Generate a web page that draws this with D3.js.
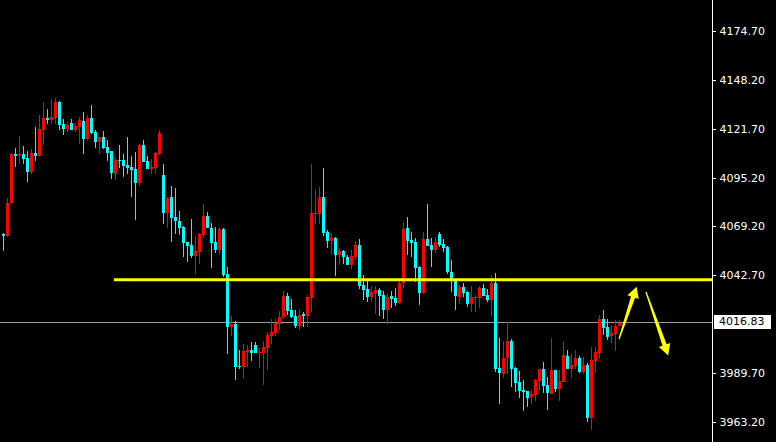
<!DOCTYPE html>
<html><head><meta charset="utf-8">
<script src="https://cdn.jsdelivr.net/npm/d3@7/dist/d3.min.js"></script>
<style>html,body{margin:0;padding:0;background:#000;}svg{display:block;}</style>
</head><body><svg id="c" width="776" height="442"></svg>
<script>
const opens = [4064.9,4063.8,4081.7,4108.2,4107.6,4108.2,4106.0,4098.4,4108.7,4107.1,
4121.2,4127.7,4126.6,4127.7,4136.3,4124.4,4121.7,4124.9,4121.2,4122.8,
4126.0,4116.3,4127.7,4120.1,4114.7,4117.4,4112.0,4109.8,4097.4,4104.9,
4104.9,4102.2,4101.1,4100.1,4092.5,4113.0,4104.4,4100.1,4100.6,4108.2,
4096.8,4076.3,4084.9,4074.1,4071.9,4068.7,4060.6,4059.0,4053.0,4055.2,
4064.4,4074.6,4068.2,4060.6,4056.2,4067.6,4043.3,4014.6,4016.2,3993.5,
3993.0,4001.1,4002.2,4004.9,4000.5,4000.5,4003.2,4009.7,4011.4,4016.2,
4020.0,4031.4,4023.8,4020.6,4015.1,4021.6,4020.6,4030.3,4075.7,4075.7,
4084.9,4066.0,4061.1,4062.7,4053.5,4055.7,4052.5,4048.1,4052.5,4059.0,
4037.3,4035.2,4030.8,4033.0,4034.6,4031.9,4023.8,4031.4,4030.3,4027.6,
4038.4,4068.2,4061.7,4060.6,4047.1,4033.0,4062.2,4059.0,4056.2,4064.9,
4059.5,4057.9,4044.3,4039.5,4030.8,4036.2,4033.5,4027.0,4030.3,4030.3,
4035.7,4031.9,4029.2,4038.4,3992.4,3989.2,3997.8,4007.0,3992.4,3984.8,
3980.5,3980.0,3976.7,3977.8,3985.4,3991.9,3983.2,3978.4,3991.3,3981.1,
3984.8,3998.9,3991.9,3993.5,3997.8,3990.3,3994.0,3965.4,3996.2,4000.5,
4018.9,4014.6,4009.7,4010.8,4015.1];
const highs = [4065.4,4084.4,4108.5,4111.4,4117.9,4112.5,4109.8,4110.9,4122.8,4129.3,
4136.3,4132.5,4137.9,4138.5,4136.8,4127.1,4125.5,4127.1,4124.9,4128.2,
4130.9,4129.3,4134.7,4121.2,4117.6,4120.6,4115.7,4110.0,4106.0,4113.0,
4108.2,4117.4,4107.1,4109.3,4113.6,4115.7,4107.1,4105.5,4109.3,4121.2,
4102.8,4084.9,4090.9,4089.8,4077.3,4069.2,4060.8,4073.0,4063.8,4065.4,
4081.1,4076.8,4070.9,4068.7,4068.2,4068.2,4047.1,4020.6,4017.8,4002.2,
4005.4,4004.9,4006.5,4006.5,4003.2,4007.0,4011.9,4018.9,4018.9,4023.3,
4034.1,4033.0,4029.7,4023.8,4024.3,4022.7,4031.9,4102.8,4088.7,4090.3,
4100.6,4067.1,4064.9,4063.3,4057.3,4056.2,4053.5,4056.2,4061.1,4062.2,
4042.7,4039.5,4036.8,4036.8,4035.7,4034.1,4032.4,4034.1,4035.7,4040.0,
4071.4,4074.1,4066.0,4062.7,4047.6,4066.0,4081.1,4062.7,4063.3,4066.0,
4062.2,4058.4,4050.8,4039.7,4037.3,4038.4,4034.1,4036.8,4031.9,4036.8,
4037.9,4035.2,4042.7,4043.8,4008.6,4007.0,4017.3,4008.1,3993.0,3990.8,
3985.9,3980.2,3980.5,3986.5,3992.1,3995.7,3987.5,4008.6,3991.5,3991.3,
4007.0,4002.2,4000.0,4002.2,3998.9,3998.4,3995.1,4003.8,4003.8,4021.1,
4023.8,4018.9,4015.7,4018.4,4018.4];
const lows = [4055.7,4063.3,4081.1,4101.1,4102.8,4102.8,4093.0,4097.4,4104.4,4106.6,
4113.6,4124.4,4124.4,4124.4,4121.2,4118.5,4120.1,4120.9,4120.1,4113.6,
4108.2,4115.7,4119.0,4111.4,4108.2,4110.9,4104.4,4094.6,4094.1,4100.6,
4095.7,4097.4,4084.9,4072.5,4090.9,4103.6,4099.8,4097.4,4097.4,4107.6,
4070.3,4068.2,4060.6,4064.9,4064.4,4052.5,4049.8,4051.9,4043.3,4048.7,
4062.7,4067.9,4046.5,4054.6,4053.5,4041.6,4000.0,4009.7,3985.9,3991.9,
3986.5,3993.0,3996.2,4000.3,3992.4,3983.2,3991.3,4005.4,4009.7,4013.0,
4018.9,4021.1,4019.5,4014.1,4013.0,4014.6,4014.6,4022.7,4070.3,4070.3,
4063.8,4057.3,4054.1,4042.2,4048.1,4048.7,4047.9,4046.0,4050.8,4035.2,
4029.2,4028.1,4028.1,4021.6,4020.6,4018.9,4016.2,4024.9,4026.0,4027.0,
4035.7,4053.5,4052.5,4038.9,4026.5,4032.5,4058.2,4047.1,4054.6,4057.9,
4055.2,4043.3,4033.5,4023.8,4027.0,4030.8,4025.4,4022.7,4022.7,4024.9,
4031.1,4028.1,4020.6,3990.3,3972.9,3987.0,3989.2,3982.1,3979.4,3976.2,
3969.2,3971.3,3972.9,3974.6,3980.0,3978.9,3969.7,3978.2,3979.4,3974.6,
3984.6,3991.7,3987.0,3991.9,3989.7,3989.2,3963.2,3958.9,3989.7,3997.3,
4010.3,4007.6,4005.9,4001.6,4014.9];
const closes = [4063.8,4081.7,4108.2,4107.1,4108.2,4105.5,4098.4,4108.7,4107.1,4121.7,
4127.7,4126.6,4128.2,4136.3,4123.9,4121.7,4123.9,4121.2,4123.3,4126.6,
4116.3,4127.7,4119.5,4114.7,4117.4,4111.4,4108.7,4097.9,4104.9,4104.4,
4101.7,4100.6,4099.5,4092.5,4113.0,4103.8,4100.1,4101.1,4108.7,4119.5,
4076.3,4084.4,4073.6,4071.9,4068.2,4060.0,4058.4,4053.0,4055.7,4064.9,
4074.6,4068.2,4060.0,4056.2,4067.6,4042.7,4014.6,4016.2,3993.0,3993.0,
4001.6,4002.2,4000.5,4000.5,4001.1,4003.8,4010.3,4011.9,4016.8,4020.0,
4031.4,4023.3,4020.0,4015.1,4021.1,4020.6,4030.8,4076.3,4076.3,4084.9,
4065.4,4061.1,4062.7,4053.5,4055.7,4052.5,4048.1,4053.0,4059.0,4036.8,
4034.6,4030.8,4033.5,4034.6,4031.4,4023.8,4030.8,4029.7,4027.6,4038.4,
4067.6,4061.1,4060.0,4046.5,4033.0,4062.2,4058.4,4056.2,4060.6,4059.0,
4057.3,4044.3,4039.5,4031.4,4036.2,4033.0,4027.0,4030.8,4030.8,4035.7,
4031.4,4029.2,4038.4,3991.9,3989.7,3997.8,4007.0,3991.9,3984.3,3980.0,
3979.4,3976.2,3978.4,3985.9,3991.9,3982.7,3978.9,3991.3,3981.1,3985.4,
3999.5,3991.9,3994.0,3997.8,3990.3,3994.0,3965.4,3996.7,4001.1,4018.9,
4014.1,4009.2,4011.4,4015.1,4016.83];
const tickLabels = ["4174.70","4148.20","4121.70","4095.20","4069.20","4042.70","3989.70","3963.20"];
const bidPrice = 4016.83;
const resistanceLevel = 4040.2;
const resistanceStartIndex = 27.75;
// annotation arrows in data units: [startIndex, startPrice, endIndex, endPrice]
const arrowUp = [154, 4008.1, 158.4, 4036.4];
const arrowDown = [160.75, 4033.5, 166.3, 3999.2];

const W = 776, H = 442, axisX = 712;
const svg = d3.select("#c");
svg.append("rect").attr("width", W).attr("height", H).attr("fill", "#000");

const y = d3.scaleLinear().domain([3963.2, 4174.7]).range([422, 31]);
const x = d3.scaleLinear().domain([0, 154]).range([3, 619]);

const candles = opens.map((o, i) => ({i, o, h: Math.max(highs[i], o, closes[i]), l: Math.min(lows[i], o, closes[i]), c: closes[i]}));
const UP = "#ff0000", DOWN = "#00ffff";

const g = svg.append("g").attr("shape-rendering", "crispEdges");
// grey bid line
g.append("rect").attr("x", 0).attr("width", axisX).attr("y", Math.floor(y(bidPrice))).attr("height", 1).attr("fill", "#9a9a9a");

g.selectAll("rect.wick").data(candles).join("rect").attr("class", "wick")
  .attr("x", d => Math.round(x(d.i)))
  .attr("width", 1)
  .attr("y", d => Math.round(y(d.h)))
  .attr("height", d => Math.max(1, Math.round(y(d.l)) - Math.round(y(d.h))))
  .attr("fill", d => d.c >= d.o ? UP : DOWN);

g.selectAll("rect.body").data(candles).join("rect").attr("class", "body")
  .attr("x", d => Math.round(x(d.i)) - 1)
  .attr("width", 3)
  .attr("y", d => Math.round(y(Math.max(d.o, d.c))))
  .attr("height", d => Math.max(1, Math.round(y(Math.min(d.o, d.c))) - Math.round(y(Math.max(d.o, d.c)))))
  .attr("fill", d => d.c >= d.o ? UP : DOWN);

// yellow resistance line
svg.append("line").attr("x1", x(resistanceStartIndex)).attr("x2", axisX)
  .attr("y1", y(resistanceLevel)).attr("y2", y(resistanceLevel))
  .attr("stroke", "#ffff00").attr("stroke-width", 3);

// tapered arrow: thin tail, widening shaft, triangular head
function arrow(a) {
  const x1 = x(a[0]), y1 = y(a[1]), x2 = x(a[2]), y2 = y(a[3]);
  const dx = x2 - x1, dy = y2 - y1, len = Math.hypot(dx, dy);
  const ux = dx / len, uy = dy / len, nx = -uy, ny = ux;
  const hl = 11, hw = 6, tw0 = 0.6, tw1 = 2.2;
  const bx = x2 - ux * hl, by = y2 - uy * hl;
  const pts = [
    [x1 + nx * tw0, y1 + ny * tw0],
    [bx + nx * tw1, by + ny * tw1],
    [bx + nx * hw, by + ny * hw],
    [x2, y2],
    [bx - nx * hw, by - ny * hw],
    [bx - nx * tw1, by - ny * tw1],
    [x1 - nx * tw0, y1 - ny * tw0]
  ];
  svg.append("path").attr("d", d3.line()(pts) + "Z").attr("fill", "#ffff00");
}
arrow(arrowUp);
arrow(arrowDown);

// right price axis
const axis = d3.axisRight(y).tickValues(tickLabels.map(Number)).tickFormat(d3.format(".2f")).tickSize(3).tickPadding(4);
const ag = svg.append("g").attr("transform", `translate(${axisX + 0.5},0)`).call(axis);
ag.select(".domain").remove();
ag.selectAll("line").attr("stroke", "#fff").attr("shape-rendering", "crispEdges");
ag.selectAll("text").attr("fill", "#fff").attr("font-family", "DejaVu Sans, sans-serif").attr("font-size", 11);
svg.append("line").attr("x1", axisX + 0.5).attr("x2", axisX + 0.5).attr("y1", 0).attr("y2", H)
  .attr("stroke", "#fff").attr("shape-rendering", "crispEdges");

// bid label box
const by0 = y(bidPrice);
svg.append("rect").attr("x", 714).attr("y", Math.round(by0) - 8).attr("width", 57).attr("height", 14).attr("fill", "#fff");
svg.append("text").attr("x", 719).attr("y", by0 - 1).attr("dy", "0.32em").attr("fill", "#000")
  .attr("font-family", "DejaVu Sans, sans-serif").attr("font-size", 11).text(bidPrice.toFixed(2));
</script></body></html>
